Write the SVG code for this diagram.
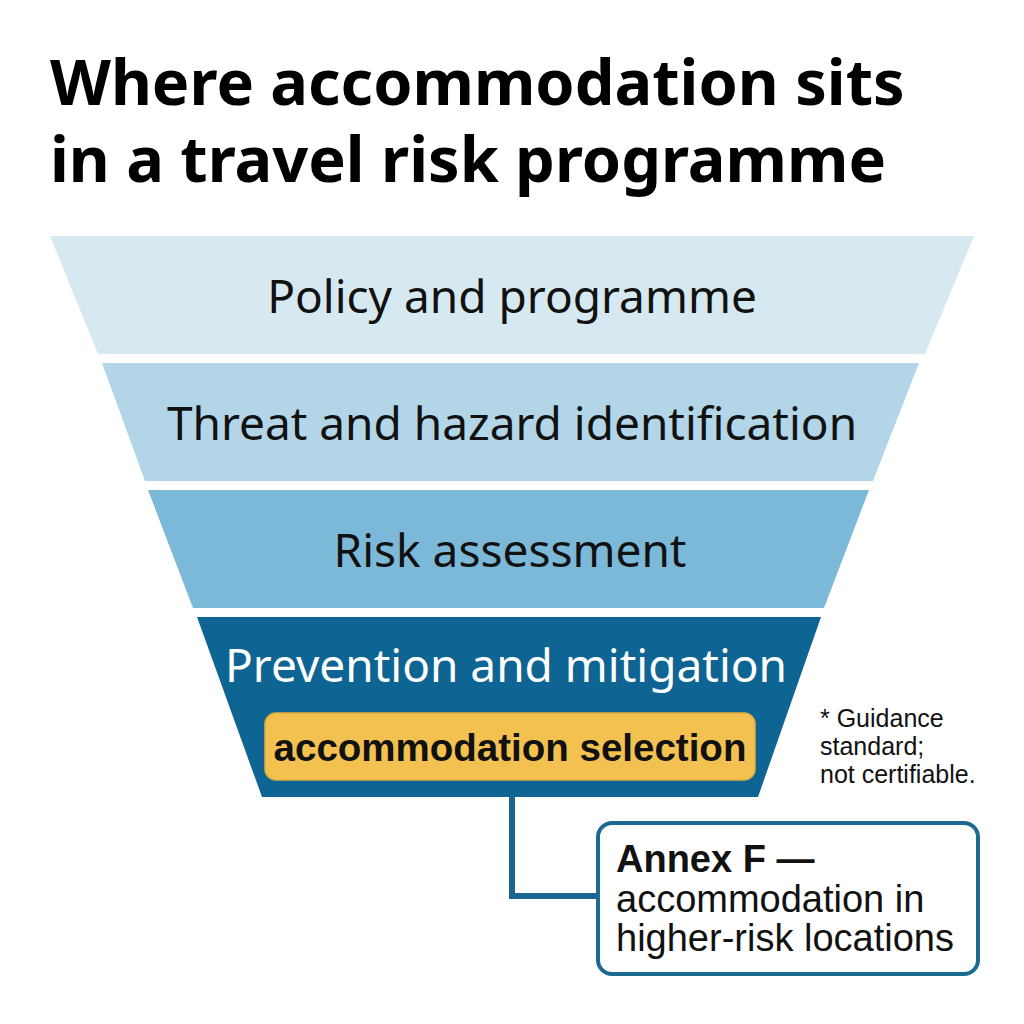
<svg xmlns="http://www.w3.org/2000/svg" width="1024" height="1024" viewBox="0 0 1024 1024">
<style>
.title{font-family:"Noto Sans","Open Sans",sans-serif;font-weight:bold;font-size:63px;fill:#000}
.band{font-family:"Noto Sans","Open Sans",sans-serif;font-size:46px;fill:#111;text-anchor:middle}
.sel{font-family:"Liberation Sans",Arial,sans-serif;font-weight:bold;font-size:38.5px;fill:#111;text-anchor:middle}
.note{font-family:"Liberation Sans",Arial,sans-serif;font-size:25px;fill:#111}
.annex{font-family:"Liberation Sans",Arial,sans-serif;font-size:38px;fill:#111}
</style>
<rect width="1024" height="1024" fill="#fff"/>
<g id="title">
<text class="title" x="50" y="105">Where accommodation sits</text>
<text class="title" x="50" y="182">in a travel risk programme</text>
</g>
<g id="band1">
<polygon points="50,236 974,236 925,354 98,354" fill="#D6E9F0"/>
<text class="band" x="512" y="313">Policy and programme</text>
</g>
<g id="band2">
<polygon points="102,363 919,363 873,481 145,481" fill="#B2D6E8"/>
<text class="band" x="512" y="440">Threat and hazard identification</text>
</g>
<g id="band3">
<polygon points="148,490 869,490 824,608 193,608" fill="#7CB9D8"/>
<text class="band" x="510" y="567">Risk assessment</text>
</g>
<g id="band4">
<polygon points="197,617 821,617 758,797 262,797" fill="#0E6492"/>
<text class="band" x="506" y="682" style="fill:#fff">Prevention and mitigation</text>
</g>
<g id="selection">
<rect x="265" y="713" width="490" height="67" rx="11" fill="#F2C14F" stroke="#E3AE3E" stroke-width="1.5"/>
<text class="sel" x="510" y="761">accommodation selection</text>
</g>
<g id="note">
<text class="note" x="820" y="727">* Guidance</text>
<text class="note" x="820" y="755">standard;</text>
<text class="note" x="820" y="783">not certifiable.</text>
</g>
<g id="connectors">
<polyline points="512,797 512,896 598,896" fill="none" stroke="#1A6690" stroke-width="6"/>
</g>
<g id="annex">
<rect x="598" y="823" width="380" height="151" rx="14" fill="#fff" stroke="#1C6A92" stroke-width="4"/>
<text class="annex" x="616" y="872" style="font-weight:bold">Annex F —</text>
<text class="annex" x="616" y="912">accommodation in</text>
<text class="annex" x="616" y="951">higher-risk locations</text>
</g>
</svg>
